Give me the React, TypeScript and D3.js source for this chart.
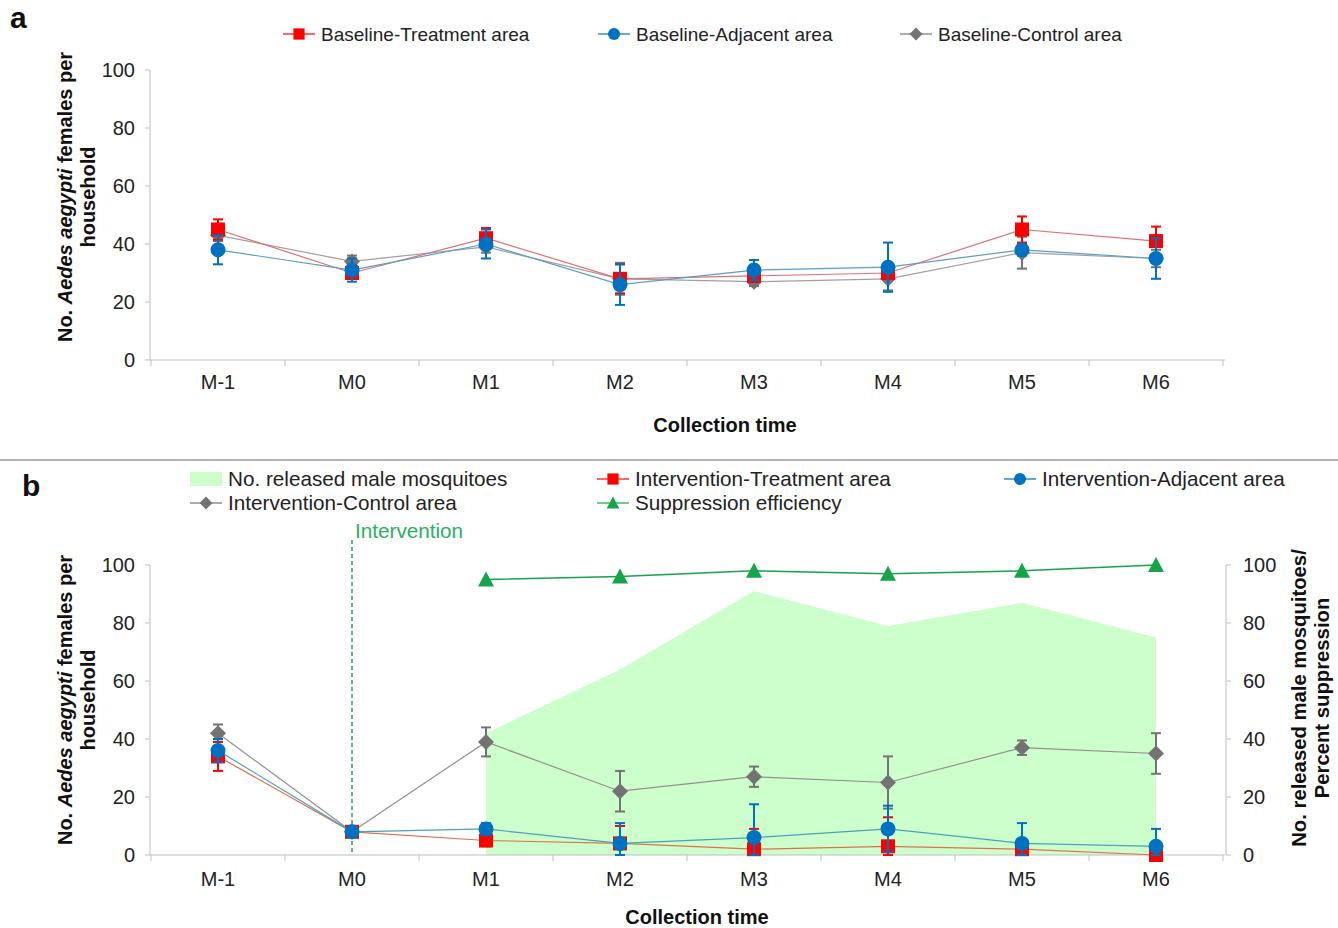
import React from 'react';
import * as d3 from 'd3';

const categories = ['M-1', 'M0', 'M1', 'M2', 'M3', 'M4', 'M5', 'M6'];
const yTicks = [0, 20, 40, 60, 80, 100];

// panel a: baseline
const baseTreatment = [45, 30, 42, 28, 29, 30, 45, 41];
const baseTreatmentErr = [3.5, 2, 3.5, 5, 2, 2, 4.5, 5];
const baseAdjacent = [38, 31, 40, 26, 31, 32, 38, 35];
const baseAdjacentErr = [5, 4, 5, 7, 3.5, 8.5, 2, 7];
const baseControl = [43, 34, 39, 28, 27, 28, 37, 35];
const baseControlErr = [2, 2, 2, 5.5, 1.5, 4, 5.5, 3];

// panel b: intervention
const intTreatment = [34, 8, 5, 4, 2, 3, 2, 0];
const intTreatmentErr = [5, 1, 2, 6, 7, 10, 3, 1];
const intAdjacent = [36, 8, 9, 4, 6, 9, 4, 3];
const intAdjacentErr = [4, 1, 2, 7, 11.5, 8, 7, 6];
const intControl = [42, 8, 39, 22, 27, 25, 37, 35];
const intControlErr = [3, 1, 5, 7, 3.5, 9, 2.5, 7];
const releaseCategories = ['M1', 'M2', 'M3', 'M4', 'M5', 'M6'];
const releasedMales = [42, 64, 91, 79, 87, 75];
const suppression = [95, 96, 98, 97, 98, 100];

const RED = '#ff0000';
const BLUE = '#0070c0';
const GREY = '#737373';
const GREEN = '#17a34a';
const AXIS = '#bfbfbf';
const FONT = '"Liberation Sans", Arial, sans-serif';

const x = d3.scaleBand<string>().domain(categories).range([151, 1223]);
const cx = (c: string) => (x(c) as number) + x.bandwidth() / 2;

function Marker({ type, px, py, color, s = 1 }: { type: string; px: number; py: number; color: string; s?: number }) {
  if (type === 'square') return <rect x={px - 7 * s} y={py - 7 * s} width={14 * s} height={14 * s} fill={color} />;
  if (type === 'circle') return <circle cx={px} cy={py} r={7.5 * s} fill={color} />;
  if (type === 'triangle') return <path d={`M${px},${py - 8 * s}L${px + 8 * s},${py + 7 * s}L${px - 8 * s},${py + 7 * s}Z`} fill={color} />;
  return <path d={`M${px},${py - 8 * s}L${px + 8 * s},${py}L${px},${py + 8 * s}L${px - 8 * s},${py}Z`} fill={color} />;
}

function Series({ values, errs, y, color, lineColor, type }: any) {
  const line = d3.line<number>().x((_, i) => cx(categories[i])).y(v => y(v));
  return (
    <g>
      <path d={line(values) as string} fill="none" stroke={lineColor} strokeWidth={1.2} />
      {errs && values.map((v: number, i: number) => {
        const px = cx(categories[i]);
        const y1 = y(v + errs[i]);
        const y2 = y(Math.max(0, v - errs[i]));
        return (
          <g key={'e' + i} stroke={color} strokeWidth={2}>
            <line x1={px} x2={px} y1={y1} y2={y2} />
            <line x1={px - 5} x2={px + 5} y1={y1} y2={y1} />
            <line x1={px - 5} x2={px + 5} y1={y2} y2={y2} />
          </g>
        );
      })}
      {values.map((v: number, i: number) => (
        <Marker key={i} type={type} px={cx(categories[i])} py={y(v)} color={color} />
      ))}
    </g>
  );
}

function LeftAxis({ y, x0 }: any) {
  return (
    <g>
      <line x1={x0} x2={x0} y1={y(0)} y2={y(100)} stroke={AXIS} />
      {yTicks.map(t => (
        <g key={t}>
          <line x1={x0 - 5} x2={x0} y1={y(t)} y2={y(t)} stroke={AXIS} />
          <text x={x0 - 15} y={y(t)} dy="0.35em" textAnchor="end" fontSize={20} fill="#222">{t}</text>
        </g>
      ))}
    </g>
  );
}

function XAxis({ y0, labelY }: any) {
  return (
    <g>
      <line x1={150} x2={1225} y1={y0} y2={y0} stroke={AXIS} />
      {categories.map((c, i) => (
        <g key={c}>
          <line x1={x(c) as number} x2={x(c) as number} y1={y0} y2={y0 + 6} stroke={AXIS} />
          {i === categories.length - 1 && (
            <line x1={(x(c) as number) + x.bandwidth()} x2={(x(c) as number) + x.bandwidth()} y1={y0} y2={y0 + 6} stroke={AXIS} />
          )}
          <text x={cx(c)} y={labelY} textAnchor="middle" fontSize={20} fill="#222">{c}</text>
        </g>
      ))}
    </g>
  );
}

function YLabel({ cxPos, cyPos }: any) {
  return (
    <text transform={`translate(${cxPos},${cyPos}) rotate(-90)`} textAnchor="middle" fontSize={20} fontWeight="bold" fill="#111">
      <tspan x={0} dy={0}>No. <tspan fontStyle="italic">Aedes aegypti</tspan> females per</tspan>
      <tspan x={0} dy={23}>household</tspan>
    </text>
  );
}

function LegendItem({ lx, ly, type, color, label, fs = 19 }: any) {
  return (
    <g>
      {type === 'area' ? (
        <rect x={lx} y={ly - 7} width={32} height={14} fill="#ccffcc" />
      ) : (
        <g>
          <line x1={lx} x2={lx + 32} y1={ly} y2={ly} stroke={color} strokeWidth={1.2} />
          <Marker type={type} px={lx + 16} py={ly} color={color} s={0.8} />
        </g>
      )}
      <text x={lx + 38} y={ly} dy="0.35em" fontSize={fs} fill="#222">{label}</text>
    </g>
  );
}

export default function App() {
  const ya = d3.scaleLinear().domain([0, 100]).range([360, 70]);
  const yb = d3.scaleLinear().domain([0, 100]).range([855, 565]);
  const yr = d3.scaleLinear().domain([0, 100]).range([855, 565]);

  const area = d3.area<number>()
    .x((_, i) => cx(releaseCategories[i]))
    .y0(yr(0))
    .y1(v => yr(v));
  const suppLine = d3.line<number>()
    .x((_, i) => cx(releaseCategories[i]))
    .y(v => yr(v));

  return (
    <svg width={1338} height={928} style={{ display: 'block', position: 'absolute', left: 0, top: 0, fontFamily: FONT }}>
      <rect width={1338} height={928} fill="#fff" />

      {/* panel a */}
      <text x={10} y={28} fontSize={30} fontWeight="bold" fill="#111">a</text>
      <LegendItem lx={283} ly={34} type="square" color={RED} label="Baseline-Treatment area" />
      <LegendItem lx={598} ly={34} type="circle" color={BLUE} label="Baseline-Adjacent area" />
      <LegendItem lx={900} ly={34} type="diamond" color={GREY} label="Baseline-Control area" />
      <LeftAxis y={ya} x0={150} />
      <XAxis y0={360} labelY={389} />
      <YLabel cxPos={72} cyPos={197} />
      <text x={725} y={432} textAnchor="middle" fontSize={20} fontWeight="bold" fill="#111">Collection time</text>
      <Series values={baseControl} errs={baseControlErr} y={ya} color={GREY} lineColor="#a0a0a0" type="diamond" />
      <Series values={baseTreatment} errs={baseTreatmentErr} y={ya} color={RED} lineColor="#e07070" type="square" />
      <Series values={baseAdjacent} errs={baseAdjacentErr} y={ya} color={BLUE} lineColor="#5a9cc8" type="circle" />

      <line x1={0} x2={1338} y1={460} y2={460} stroke="#999" strokeWidth={1.5} />

      {/* panel b */}
      <text x={22} y={496} fontSize={30} fontWeight="bold" fill="#111">b</text>
      <LegendItem lx={190} ly={479} type="area" color="#ccffcc" label="No. released male mosquitoes" fs={20.7} />
      <LegendItem lx={597} ly={479} type="square" color={RED} label="Intervention-Treatment area" fs={20.7} />
      <LegendItem lx={1004} ly={479} type="circle" color={BLUE} label="Intervention-Adjacent area" fs={20.7} />
      <LegendItem lx={190} ly={503} type="diamond" color={GREY} label="Intervention-Control area" fs={20.7} />
      <LegendItem lx={597} ly={503} type="triangle" color={GREEN} label="Suppression efficiency" fs={20.7} />

      <path d={area(releasedMales) as string} fill="#ccffcc" />
      <line x1={cx('M0')} x2={cx('M0')} y1={540} y2={855} stroke="#2a9a70" strokeWidth={1.5} strokeDasharray="4,3" />
      <text x={cx('M0') + 3} y={538} fontSize={20.7} fill="#2ab060">Intervention</text>

      <LeftAxis y={yb} x0={150} />
      <line x1={1226} x2={1226} y1={yr(0)} y2={yr(100)} stroke={AXIS} />
      {yTicks.map(t => (
        <g key={t}>
          <line x1={1226} x2={1231} y1={yr(t)} y2={yr(t)} stroke={AXIS} />
          <text x={1243} y={yr(t)} dy="0.35em" fontSize={20} fill="#222">{t}</text>
        </g>
      ))}
      <XAxis y0={855} labelY={886} />
      <YLabel cxPos={72} cyPos={700} />
      <text transform="translate(1306,698) rotate(-90)" textAnchor="middle" fontSize={20.3} fontWeight="bold" fill="#111">
        <tspan x={0} dy={0}>No. released male mosquitoes/</tspan>
        <tspan x={0} dy={23}>Percent suppression</tspan>
      </text>
      <text x={697} y={924} textAnchor="middle" fontSize={20} fontWeight="bold" fill="#111">Collection time</text>

      <path d={suppLine(suppression) as string} fill="none" stroke={GREEN} strokeWidth={1.5} />
      {suppression.map((v, i) => (
        <Marker key={i} type="triangle" px={cx(releaseCategories[i])} py={yr(v)} color={GREEN} />
      ))}
      <Series values={intControl} errs={intControlErr} y={yb} color={GREY} lineColor="#909090" type="diamond" />
      <Series values={intTreatment} errs={intTreatmentErr} y={yb} color={RED} lineColor="#e07050" type="square" />
      <Series values={intAdjacent} errs={intAdjacentErr} y={yb} color={BLUE} lineColor="#4aa0b8" type="circle" />
    </svg>
  );
}
